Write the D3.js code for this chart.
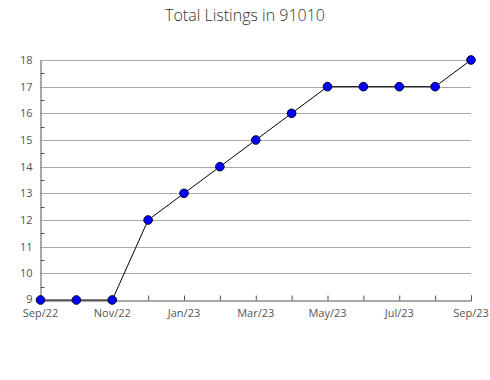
<!DOCTYPE html>
<html><head><meta charset="utf-8">
<script src="https://cdn.jsdelivr.net/npm/d3@7"></script>
<style>body{margin:0;background:#fff;} text{font-family:"Open Sans",sans-serif;}</style>
</head><body>
<svg id="c" width="490" height="380"></svg>
<script>
const months = ["Sep/22","Oct/22","Nov/22","Dec/22","Jan/23","Feb/23","Mar/23","Apr/23","May/23","Jun/23","Jul/23","Aug/23","Sep/23"];
const values = [9,9,9,12,13,14,15,16,17,17,17,17,18];
const yTicks = [9,10,11,12,13,14,15,16,17,18];
const title = "Total Listings in 91010";

const svg = d3.select("#c");
const L=40.5, R=471, T=60, B=300;
const x = d3.scalePoint().domain(months).range([L,R]);
const y = d3.scaleLinear().domain([9,18]).range([B,T]);

svg.append("text").attr("x",245).attr("y",21).attr("text-anchor","middle")
  .attr("font-size",16).attr("font-weight",300).attr("fill","#333").text(title);

// grid
svg.append("g").selectAll("line").data(yTicks.slice(1)).join("line")
  .attr("x1",L).attr("x2",R).attr("y1",d=>Math.round(y(d))+0.5).attr("y2",d=>Math.round(y(d))+0.5)
  .attr("stroke","#aaa").attr("stroke-width",1);

// minor y ticks
const minor = yTicks.slice(0,-1).map(d=>d+0.5);
svg.append("g").selectAll("line").data(minor).join("line")
  .attr("x1",L).attr("x2",L+4).attr("y1",d=>Math.round(y(d))+0.5).attr("y2",d=>Math.round(y(d))+0.5)
  .attr("stroke","#555");

// y axis
const ya = svg.append("g").attr("transform",`translate(${L},0)`)
  .call(d3.axisLeft(y).tickValues(yTicks).tickSize(0).tickPadding(8).tickFormat(d3.format("d")));
ya.select(".domain").attr("stroke","#555");
ya.selectAll("text").attr("font-size",11).attr("fill","#555").attr("font-family","Open Sans, sans-serif");
ya.selectAll(".tick").filter(d=>d===9).select("text").attr("y",-1.5);

// x axis
const xa = svg.append("g").attr("transform",`translate(0,${B+0.5})`)
  .call(d3.axisTop(x).tickSize(5).tickFormat(()=>""));
xa.select(".domain").attr("stroke","#555");
xa.selectAll(".tick line").attr("stroke","#555");
svg.append("g").selectAll("text").data(months.filter((d,i)=>i%2===0)).join("text")
  .attr("x",d=>x(d)).attr("y",317).attr("text-anchor","middle")
  .attr("font-size",11).attr("fill","#555").text(d=>d);

// line
svg.append("path").datum(values).attr("fill","none").attr("stroke","#000").attr("stroke-width",1)
  .attr("d",d3.line().x((d,i)=>x(months[i])).y(d=>y(d)));

svg.append("g").selectAll("circle").data(values).join("circle")
  .attr("cx",(d,i)=>x(months[i])).attr("cy",d=>y(d)).attr("r",4.3)
  .attr("fill","#0000ff").attr("stroke","#000033").attr("stroke-width",1);
</script>
</body></html>
